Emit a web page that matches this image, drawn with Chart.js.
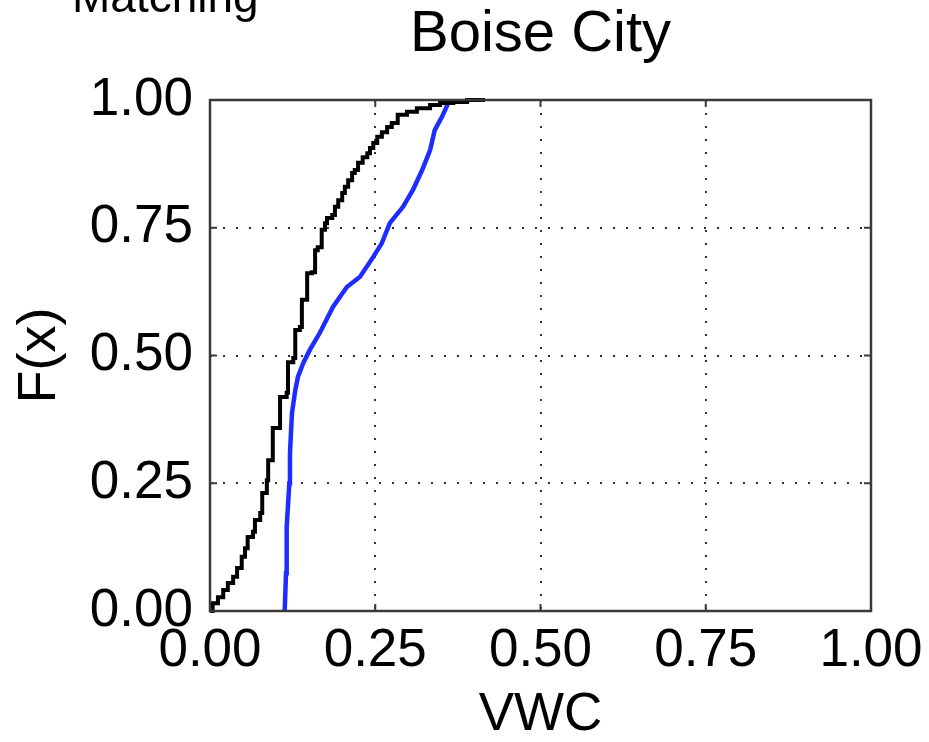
<!DOCTYPE html>
<html>
<head>
<meta charset="utf-8">
<script src="https://cdn.jsdelivr.net/npm/chart.js@4/dist/chart.umd.min.js"></script>
<style>
  html, body { margin: 0; padding: 0; background: #fff; }
  #wrap { width: 929px; height: 742px; position: relative; }
</style>
</head>
<body>
<div id="wrap"><canvas id="cdfChart" width="929" height="742"></canvas></div>
<script>
const FONT = '"Liberation Sans", Arial, sans-serif'

// empirical CDF (stepped) - jump locations and level after the jump
const blackX = [0.000, 0.004, 0.012, 0.020, 0.027, 0.035, 0.041, 0.048, 0.053, 0.057,
  0.065, 0.068, 0.076, 0.079, 0.086, 0.088, 0.095, 0.106, 0.116, 0.118,
  0.126, 0.129, 0.136, 0.139, 0.147, 0.154, 0.159, 0.163, 0.169, 0.174,
  0.177, 0.185, 0.189, 0.194, 0.200, 0.204, 0.209, 0.215, 0.219, 0.224,
  0.231, 0.238, 0.242, 0.247, 0.253, 0.260, 0.268, 0.275, 0.284, 0.298,
  0.313, 0.333, 0.348, 0.368, 0.389, 0.416]
const blackF = [0.000, 0.015, 0.027, 0.041, 0.055, 0.067, 0.084, 0.106, 0.123, 0.145,
  0.155, 0.178, 0.192, 0.231, 0.256, 0.295, 0.358, 0.419, 0.427, 0.487,
  0.495, 0.550, 0.556, 0.609, 0.661, 0.663, 0.706, 0.712, 0.746, 0.759,
  0.769, 0.775, 0.791, 0.804, 0.818, 0.830, 0.843, 0.857, 0.863, 0.877,
  0.888, 0.896, 0.906, 0.916, 0.928, 0.937, 0.947, 0.955, 0.971, 0.977,
  0.984, 0.990, 0.994, 0.996, 1.000, 1.000]

// matched CDF
const blueX = [0.113, 0.115, 0.116, 0.120, 0.121, 0.124, 0.129, 0.133, 0.141, 0.151,
  0.166, 0.186, 0.207, 0.227, 0.247, 0.260, 0.272, 0.292, 0.307, 0.321,
  0.333, 0.340, 0.351, 0.359, 0.362]
const blueF = [0.000, 0.074, 0.164, 0.250, 0.309, 0.387, 0.432, 0.458, 0.485, 0.511,
  0.544, 0.595, 0.634, 0.654, 0.693, 0.720, 0.759, 0.791, 0.824, 0.863,
  0.902, 0.941, 0.967, 0.990, 1.000]

const tickValues = [0, 0.25, 0.5, 0.75, 1]

const toPoints = (xs, ys) => xs.map((x, i) => ({ x, y: ys[i] }))

// frame box, inward tick marks and the figure titles
const framePlugin = {
  id: 'frame',
  afterDatasetsDraw(chart) {
    const { ctx, chartArea: a, scales } = chart
    ctx.save()
    ctx.strokeStyle = '#3a3a3a'
    ctx.lineWidth = 2.5
    ctx.strokeRect(a.left, a.top, a.right - a.left, a.bottom - a.top)
    ctx.lineWidth = 2
    const len = 7
    tickValues.slice(1, -1).forEach(v => {
      const px = scales.x.getPixelForValue(v)
      const py = scales.y.getPixelForValue(v)
      ctx.beginPath()
      ctx.moveTo(px, a.bottom); ctx.lineTo(px, a.bottom - len)
      ctx.moveTo(px, a.top); ctx.lineTo(px, a.top + len)
      ctx.moveTo(a.left, py); ctx.lineTo(a.left + len, py)
      ctx.moveTo(a.right, py); ctx.lineTo(a.right - len, py)
      ctx.stroke()
    })
    ctx.fillStyle = '#000'
    ctx.textAlign = 'center'
    ctx.textBaseline = 'alphabetic'
    ctx.font = `58px ${FONT}`
    ctx.fillText('Boise City', (a.left + a.right) / 2, 51)
    ctx.textAlign = 'left'
    ctx.font = `46px ${FONT}`
    ctx.fillText('Matching', 72, 12)
    ctx.restore()
  }
}

const ctx = document.getElementById('cdfChart').getContext('2d')
new Chart(ctx, {
  type: 'line',
  data: {
    datasets: [
      {
        label: 'Observed',
        data: toPoints(blackX, blackF),
        borderColor: '#000',
        borderWidth: 4,
        stepped: true,
        pointRadius: 0,
        clip: 6
      },
      {
        label: 'Matched',
        data: toPoints(blueX, blueF),
        borderColor: '#1f2cff',
        borderWidth: 4.5,
        tension: 0,
        pointRadius: 0,
        clip: 6
      }
    ]
  },
  options: {
    responsive: false,
    animation: false,
    layout: { padding: { left: 0, right: 58, top: 100, bottom: 0 } },
    plugins: {
      legend: { display: false },
      tooltip: { enabled: false },
      title: { display: false }
    },
    scales: {
      x: {
        type: 'linear',
        min: 0,
        max: 1,
        afterBuildTicks: (axis) => { axis.ticks = tickValues.map(v => ({ value: v })) },
        afterFit: (axis) => { axis.height = 131 },
        ticks: {
          color: '#000',
          // small padding keeps the last label's overhang under the right layout padding
          padding: 2,
          maxRotation: 0,
          font: { family: FONT, size: 53, lineHeight: 1.45 },
          callback: (v) => Number(v).toFixed(2)
        },
        grid: {
          drawTicks: false,
          color: (c) => (c.tick && c.tick.value > 0 && c.tick.value < 1) ? '#333' : 'transparent',
          lineWidth: 2
        },
        border: { display: false, dash: [2, 11] },
        title: {
          display: true,
          text: 'VWC',
          color: '#000',
          font: { family: FONT, size: 53, lineHeight: 1 },
          padding: { top: 0, bottom: 0 }
        }
      },
      y: {
        type: 'linear',
        min: 0,
        max: 1,
        afterBuildTicks: (axis) => { axis.ticks = tickValues.map(v => ({ value: v })) },
        afterFit: (axis) => { axis.width = 210 },
        ticks: {
          color: '#000',
          padding: 17,
          font: { family: FONT, size: 53, lineHeight: 1 },
          callback: (v) => Number(v).toFixed(2)
        },
        grid: {
          drawTicks: false,
          color: (c) => (c.tick && c.tick.value > 0 && c.tick.value < 1) ? '#333' : 'transparent',
          lineWidth: 2
        },
        border: { display: false, dash: [2, 11] },
        title: {
          display: true,
          text: 'F(x)',
          color: '#000',
          font: { family: FONT, size: 54, lineHeight: 1 },
          padding: { top: 13, bottom: 0 }
        }
      }
    }
  },
  plugins: [framePlugin]
})
</script>
</body>
</html>
